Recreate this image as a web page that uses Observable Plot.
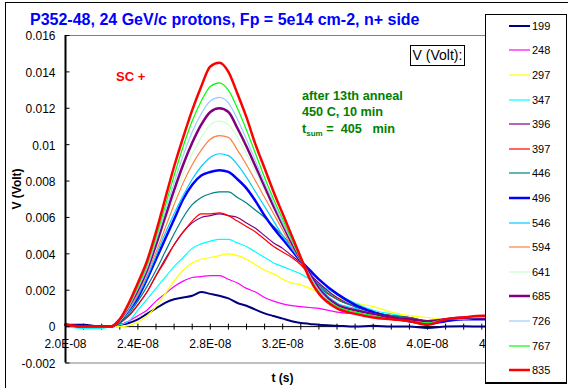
<!DOCTYPE html>
<html><head><meta charset="utf-8">
<script src="https://cdn.jsdelivr.net/npm/d3@7"></script>
<script src="https://cdn.jsdelivr.net/npm/@observablehq/plot@0.6"></script>
<style>
html,body{margin:0;padding:0;background:#fff;}
#chart{position:relative;width:568px;height:388px;overflow:hidden;background:#fff;font-family:Arial,"Liberation Sans",sans-serif;}
#chart svg.plot{position:absolute;left:0;top:0;}
.ov{position:absolute;white-space:pre;line-height:1;}
</style></head>
<body><div id="chart"></div>
<script>
// time grid in ns
const timeNs = [20,21,22,22.5,23,23.5,24,24.5,25,25.5,26,26.5,27,27.5,28,28.5,29,29.5,30,30.5,31,31.5,32,32.5,33,33.5,34,35,36,37,38,39,40,41,42,43,44];

const seriesNames = ["199","248","297","347","396","397","446","496","546","594","641","685","726","767","835"];

const v199 = [0.0001,0.0001,0,0,0.0001,0.0002,0.0004,0.0007,0.001,0.0013,0.0015,0.0016,0.0017,0.0019,0.0018,0.0017,0.00155,0.0013,0.00115,0.00093,0.00073,0.00058,0.00044,0.0003,0.0002,0.00015,0.0001,0.00005,0,0.00005,0,0,-0.00008,0,0.00002,0,0];
const v248 = [0,0,0,0,0.0001,0.0003,0.0006,0.0009,0.0014,0.0018,0.0022,0.0025,0.0027,0.00275,0.0028,0.0028,0.0026,0.0024,0.0021,0.0019,0.0016,0.0014,0.00125,0.00115,0.0011,0.00105,0.001,0.0008,0.0007,0.0006,0.0004,0.0003,0.00025,0.0003,0.0004,0.0004,0.0004];
const v297 = [0,0,0,0,0,0.00005,0.00025,0.0006,0.0011,0.0018,0.0025,0.0031,0.0035,0.0037,0.0038,0.0039,0.004,0.0039,0.0037,0.0034,0.0031,0.0029,0.0026,0.0024,0.0023,0.0021,0.0019,0.0016,0.0013,0.0011,0.0008,0.0006,0.0005,0.0004,0.0004,0.0004,0.0004];
const v347 = [0,-0.0001,-0.0001,0,0.0001,0.0003,0.0009,0.0015,0.0021,0.0027,0.0033,0.0038,0.0043,0.00455,0.0047,0.0048,0.0048,0.0046,0.0044,0.0041,0.0038,0.0035,0.0033,0.0031,0.0029,0.0026,0.0023,0.0018,0.0013,0.0009,0.0007,0.0005,0.0003,0.0003,0.0004,0.0004,0.0004];
const v396 = [0.0001,0,0,0,0.0002,0.0006,0.0012,0.0019,0.0028,0.0037,0.0045,0.0052,0.0057,0.006,0.0061,0.0062,0.0061,0.006,0.0057,0.0054,0.005,0.0046,0.0043,0.0039,0.0035,0.0029,0.0024,0.0016,0.0011,0.0008,0.0006,0.0005,0.0003,0.0004,0.0005,0.0005,0.0005];
const v397 = [0.0001,0,0,0,0.0002,0.0006,0.0012,0.0019,0.0028,0.0036,0.0045,0.0052,0.0058,0.0062,0.0062,0.00625,0.0061,0.0058,0.0055,0.0052,0.0048,0.0044,0.0041,0.0038,0.0034,0.0028,0.0022,0.0015,0.0011,0.0008,0.0006,0.0005,0.0003,0.0004,0.0005,0.0005,0.0005];
const v446 = [0.0001,0,0,0,0.0002,0.0007,0.0014,0.0022,0.0031,0.0041,0.0051,0.006,0.0067,0.0071,0.0073,0.0074,0.0074,0.0071,0.0068,0.0064,0.006,0.0055,0.005,0.0044,0.0036,0.0029,0.0023,0.0015,0.0011,0.0008,0.0006,0.0005,0.0003,0.0004,0.0005,0.0005,0.0005];
const v496 = [0.0001,0,0,0,0.0003,0.0009,0.0016,0.0026,0.0037,0.0048,0.0059,0.007,0.0078,0.0083,0.0085,0.0086,0.0085,0.0081,0.0076,0.0069,0.0061,0.0054,0.0048,0.0042,0.0036,0.0031,0.0026,0.0018,0.0012,0.0008,0.0005,0.0003,0.00015,0.0003,0.0004,0.0004,0.0004];
const v546 = [0.0001,0,0,0,0.0003,0.0009,0.0017,0.0027,0.0039,0.0051,0.0062,0.0072,0.0081,0.0088,0.0093,0.0095,0.0094,0.0089,0.0082,0.0074,0.0066,0.0058,0.005,0.0043,0.0036,0.0029,0.0022,0.0013,0.001,0.0007,0.0005,0.0004,0.0003,0.0004,0.0004,0.0005,0.0005];
const v594 = [0.0001,0,0,0,0.0003,0.001,0.0018,0.0029,0.0041,0.0054,0.0067,0.0079,0.0089,0.0097,0.0103,0.0105,0.0104,0.0097,0.0089,0.008,0.0071,0.0062,0.0053,0.0044,0.0036,0.0028,0.0021,0.0012,0.0009,0.0007,0.0005,0.0004,0.0003,0.0004,0.0005,0.0005,0.0005];
const v641 = [0.0001,0,0,0,0.0003,0.001,0.0019,0.003,0.0043,0.0057,0.0071,0.0084,0.0095,0.0104,0.0111,0.0113,0.0111,0.0104,0.0095,0.0085,0.0075,0.0065,0.0055,0.0045,0.0037,0.0029,0.0021,0.0012,0.0009,0.0007,0.0005,0.0004,0.0003,0.0004,0.0005,0.0005,0.0005];
const v685 = [0.0001,0,0,0,0.0004,0.0011,0.002,0.0031,0.0045,0.006,0.0075,0.0089,0.0101,0.0111,0.0118,0.012,0.0118,0.0109,0.0099,0.0088,0.0077,0.0066,0.0056,0.0046,0.0037,0.0029,0.0021,0.0012,0.0009,0.0007,0.0005,0.0004,0.0003,0.0004,0.0005,0.0005,0.0005];
const v726 = [0.0001,0,0,0,0.0004,0.0011,0.0021,0.0032,0.0047,0.0063,0.0079,0.0094,0.0107,0.0117,0.0124,0.0126,0.0123,0.0114,0.0103,0.0091,0.0079,0.0068,0.0057,0.0047,0.0037,0.0028,0.002,0.0011,0.0008,0.0006,0.0004,0.0003,0.0002,0.0004,0.0005,0.0005,0.0005];
const v767 = [0.0001,0,0,0,0.0004,0.0012,0.0022,0.0034,0.0049,0.0066,0.0083,0.0099,0.0113,0.0124,0.0132,0.0134,0.013,0.012,0.0108,0.0095,0.0082,0.007,0.0059,0.0048,0.0037,0.0027,0.0019,0.0011,0.0008,0.0006,0.0004,0.0003,0.0002,0.0004,0.0005,0.0006,0.0006];
const v835 = [0.0001,0,0,0,0.0004,0.0013,0.0024,0.0036,0.0052,0.007,0.0088,0.0104,0.0119,0.0132,0.0143,0.0145,0.014,0.0128,0.0115,0.01,0.0087,0.0074,0.0062,0.005,0.0038,0.0026,0.0018,0.001,0.0007,0.0005,0.0004,0.0003,0.0001,0.0004,0.0005,0.0006,0.0006];

const seriesValues = [v199,v248,v297,v347,v396,v397,v446,v496,v546,v594,v641,v685,v726,v767,v835];

const yTicks = [-0.002,0,0.002,0.004,0.006,0.008,0.01,0.012,0.014,0.016];
const yTickLabels = ["-0.002","0","0.002","0.004","0.006","0.008","0.01","0.012","0.014","0.016"];
const xTicks = [2.0e-8,2.4e-8,2.8e-8,3.2e-8,3.6e-8,4.0e-8,4.4e-8];
const xTickLabels = ["2.0E-08","2.4E-08","2.8E-08","3.2E-08","3.6E-08","4.0E-08","4.4E-08"];
const xMinorNs = d3.range(20, 45, 1);

// styles (kept separate from data)
const seriesColors = ["#000080","#FF00FF","#FFFF00","#00FFFF","#800080","#FF0000","#008080","#0000FF","#00CCFF","#FF8040","#CCFFCC","#800080","#99CCFF","#00FF00","#FF0000"];
const seriesWidths = [2,1.2,1.2,1.2,1.2,1.2,1.2,2.5,1.2,1.2,1.2,2.5,1.2,1.2,2.5];

const FONT = "Arial, 'Liberation Sans', sans-serif";

const data = seriesNames.map((name, i) => timeNs.map((t, j) => ({name, t: t * 1e-9, v: seriesValues[i][j]})));

const vTick = {draw(ctx, size) {const r = Math.sqrt(size / Math.PI); ctx.moveTo(0, -r); ctx.lineTo(0, r);}};
const hTick = {draw(ctx, size) {const r = Math.sqrt(size / Math.PI); ctx.moveTo(0, 0); ctx.lineTo(r, 0);}};

const plot = Plot.plot({
  width: 568, height: 388,
  marginLeft: 65, marginRight: 68.6, marginTop: 35, marginBottom: 25.5,
  x: {type: "linear", domain: [2.0e-8, 4.4e-8], axis: null},
  y: {type: "linear", domain: [-0.002, 0.016], axis: null},
  style: {fontFamily: FONT, fontSize: "12px", background: "transparent", color: "black", overflow: "visible"},
  marks: [
    Plot.frame({stroke: "#808080", strokeWidth: 1}),
    Plot.ruleY([0], {stroke: "black", strokeWidth: 1}),
    Plot.dot(xMinorNs, {x: d => d * 1e-9, y: () => 0, symbol: vTick, r: 3, stroke: "black", fill: "none", strokeWidth: 1}),
    ...data.map((d, i) => Plot.line(d, {x: "t", y: "v", stroke: seriesColors[i], strokeWidth: seriesWidths[i], curve: "monotone-x"})),
    Plot.ruleX([2.0e-8], {stroke: "black", strokeWidth: 2}),
    Plot.dot(yTicks, {x: () => 2.0e-8, y: d => d, symbol: hTick, r: 4, stroke: "black", fill: "none", strokeWidth: 1}),
    Plot.text(yTicks, {x: () => 2.0e-8, y: d => d, text: (d, i) => yTickLabels[i], textAnchor: "end", dx: -10, dy: 1, fontSize: 12, fill: "black"}),
    Plot.text(xTicks, {x: d => d, y: () => 0, text: (d, i) => xTickLabels[i], dy: 18, fontSize: 12, fill: "black"})
  ]
});
plot.classList.add("plot");
const chart = document.getElementById("chart");

// outer chart border
const border = document.createElement("div");
border.style.cssText = "position:absolute;left:5px;top:2px;width:700px;height:500px;border:1px solid #000;";
chart.appendChild(border);
chart.appendChild(plot);

function addText(html, left, baseline, size, css) {
  const el = document.createElement("div");
  el.className = "ov";
  el.innerHTML = html;
  el.style.left = left + "px";
  el.style.top = (baseline - 0.8465 * size) + "px";
  el.style.fontSize = size + "px";
  el.style.cssText += css || "";
  chart.appendChild(el);
  return el;
}

addText("P352-48, 24 GeV/c protons, Fp = 5e14 cm-2, n+ side", 30, 25.5, 16, "font-weight:bold;color:#0000FF;");
addText("SC +", 116, 80.7, 13, "font-weight:bold;color:#FF0000;");
addText("after 13th anneal", 302, 100.5, 12.7, "font-weight:bold;color:#008000;");
addText("450 C, 10 min", 302, 117, 12.7, "font-weight:bold;color:#008000;");
addText('t<span style="font-size:8px;position:relative;top:3px;">sum</span> =  405   min', 302, 134, 12.7, "font-weight:bold;color:#008000;");
addText("t (s)", 271.5, 382, 12, "font-weight:bold;color:#000;");

// y axis title (rotated)
const yt = document.createElement("div");
yt.textContent = "V (Volt)";
yt.style.cssText = `position:absolute;left:${17 - 40}px;top:${188.5 - 7}px;width:80px;height:14px;line-height:14px;text-align:center;font-size:12px;font-weight:bold;transform:rotate(-90deg);transform-origin:50% 50%;white-space:pre;`;
chart.appendChild(yt);

// V (Volt): box
const vb = document.createElement("div");
vb.textContent = "V (Volt):";
vb.style.cssText = "position:absolute;left:410px;top:44.5px;width:53px;height:19px;border:1px solid #000;background:#fff;font-size:14px;line-height:19px;text-align:center;white-space:pre;";
chart.appendChild(vb);

// legend
const lg = document.createElement("div");
lg.style.cssText = "position:absolute;left:485px;top:14px;width:82px;height:370px;border:1px solid #000;border-bottom-width:2px;background:#fff;box-sizing:border-box;";
seriesNames.forEach((name, i) => {
  const cy = 10.7 + i * 24.6;
  const row = document.createElement("div");
  row.style.cssText = `position:absolute;left:0;top:${cy - 6}px;width:80px;height:12px;`;
  row.innerHTML = `<svg width="24" height="12" style="position:absolute;left:23px;top:0"><line x1="0" x2="21" y1="6" y2="6" stroke="${seriesColors[i]}" stroke-width="${seriesWidths[i]}"/></svg>` +
    `<span style="position:absolute;left:46px;top:0;font-size:11px;line-height:12px;">${name}</span>`;
  lg.appendChild(row);
});
chart.appendChild(lg);
</script>
</body></html>
